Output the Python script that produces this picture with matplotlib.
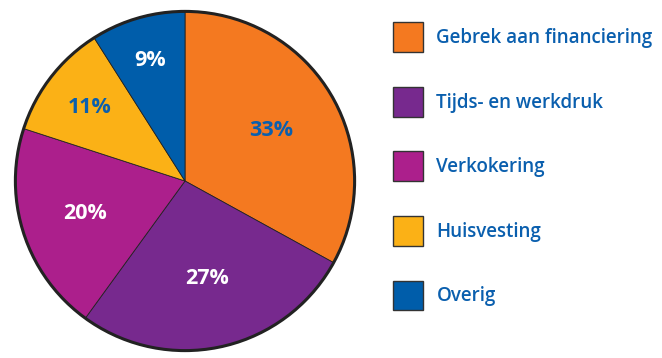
import numpy as np
import matplotlib.pyplot as plt
from matplotlib.patches import Circle

plt.rcParams["font.family"] = ["Open Sans", "DejaVu Sans"]

categorieen = ["Gebrek aan financiering", "Tijds- en werkdruk", "Verkokering",
               "Huisvesting", "Overig"]
aandeel = [33, 27, 20, 11, 9]
kleuren = ["#F47920", "#77298E", "#AC1F8C", "#FBB116", "#005DAA"]
tekstkleur = ["#0a5fae", "white", "white", "#0a5fae", "white"]
afstand = [0.59, 0.59, 0.62, 0.71, 0.74]

blauw = "#0a5fae"

fig = plt.figure(figsize=(6.62, 3.58), dpi=100)
# pie axes placed in pixel terms: left 12, bottom 4, size 346 x 346
ax = fig.add_axes([12 / 662, 4 / 358, 346 / 662, 346 / 358])

wedges, _ = ax.pie(aandeel, colors=kleuren, startangle=90, counterclock=False,
                   wedgeprops=dict(edgecolor="#222222", linewidth=0.6))
ax.add_patch(Circle((0, 0), 1.0, fill=False, edgecolor="#222222", linewidth=2.2))

for w, v, kl, d in zip(wedges, aandeel, tekstkleur, afstand):
    hoek = np.deg2rad((w.theta1 + w.theta2) / 2)
    ax.text(d * np.cos(hoek), d * np.sin(hoek), f"{v}%", ha="center", va="center",
            fontsize=15.5, fontweight="bold", color=kl)

ax.set_xlim(-1.02, 1.02)
ax.set_ylim(-1.02, 1.02)
ax.set_aspect("equal")
ax.axis("off")

leg = fig.legend(wedges, categorieen, loc="upper left",
                 bbox_to_anchor=(393 / 662, 1 - 22 / 358), frameon=False,
                 prop=dict(size=13.5, weight="semibold"), labelcolor=blauw,
                 borderpad=0, borderaxespad=0,
                 handlelength=1.6, handleheight=2.08, handletextpad=0.72,
                 labelspacing=1.85)
for h in leg.legend_handles:
    h.set_edgecolor("#333333")
    h.set_linewidth(1.0)

fig.savefig("out.png", dpi=100)
